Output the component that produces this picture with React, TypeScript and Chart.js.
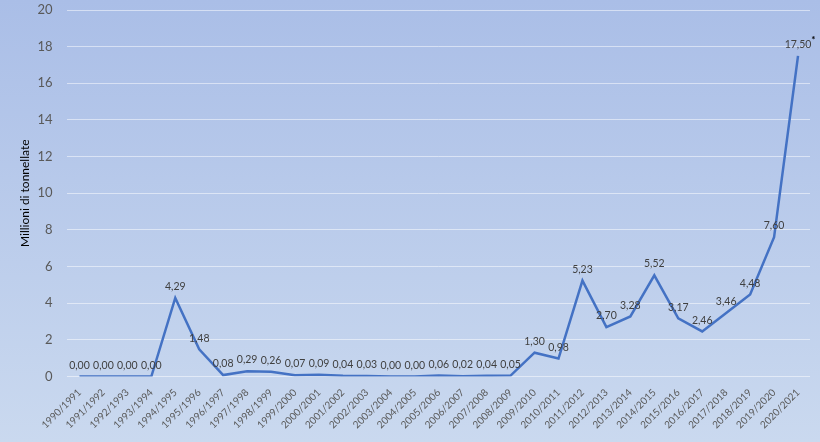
import React, { useEffect, useRef } from 'react';
import { Chart, registerables } from 'chart.js';

Chart.register(...registerables);

const seasons = [
  '1990/1991', '1991/1992', '1992/1993', '1993/1994', '1994/1995', '1995/1996',
  '1996/1997', '1997/1998', '1998/1999', '1999/2000', '2000/2001', '2001/2002',
  '2002/2003', '2003/2004', '2004/2005', '2005/2006', '2006/2007', '2007/2008',
  '2008/2009', '2009/2010', '2010/2011', '2011/2012', '2012/2013', '2013/2014',
  '2014/2015', '2015/2016', '2016/2017', '2017/2018', '2018/2019', '2019/2020',
  '2020/2021',
];

const tonnes = [
  0.0, 0.0, 0.0, 0.0, 4.29, 1.48, 0.08, 0.29, 0.26, 0.07, 0.09, 0.04, 0.03,
  0.0, 0.0, 0.06, 0.02, 0.04, 0.05, 1.3, 0.98, 5.23, 2.7, 3.28, 5.52, 3.17,
  2.46, 3.46, 4.48, 7.6, 17.5,
];

// estimated value marked with an asterisk in the source
const notes = ['', '', '', '', '', '', '', '', '', '', '', '', '', '', '', '', '', '', '', '', '', '', '', '', '', '', '', '', '', '', '*'];

const yTicks = [0, 2, 4, 6, 8, 10, 12, 14, 16, 18, 20];

const FONT = 'Lato, "Open Sans", sans-serif';

const background = {
  id: 'background',
  beforeDraw(chart: Chart) {
    const { ctx, width, height } = chart;
    const g = ctx.createLinearGradient(0, 0, 0, height);
    g.addColorStop(0, '#aabee7');
    g.addColorStop(1, '#cad9ef');
    ctx.save();
    ctx.fillStyle = g;
    ctx.fillRect(0, 0, width, height);
    ctx.restore();
  },
};

const valueLabels = {
  id: 'valueLabels',
  afterDatasetsDraw(chart: Chart) {
    const { ctx } = chart;
    const meta = chart.getDatasetMeta(0);
    ctx.save();
    meta.data.forEach((pt, i) => {
      const text = tonnes[i].toFixed(2).replace('.', ',');
      ctx.font = `10.5px ${FONT}`;
      ctx.fillStyle = '#404040';
      ctx.textAlign = 'center';
      ctx.textBaseline = 'bottom';
      ctx.fillText(text, pt.x, pt.y - 6);
      if (notes[i]) {
        const w = ctx.measureText(text).width;
        ctx.font = `bold 10px ${FONT}`;
        ctx.fillStyle = '#000';
        ctx.fillText(notes[i], pt.x + w / 2 + 2, pt.y - 11);
      }
    });
    ctx.restore();
  },
};

const App: React.FC = () => {
  const canvasRef = useRef<HTMLCanvasElement>(null);

  useEffect(() => {
    document.body.style.margin = '0';
    if (!canvasRef.current) return;
    const chart = new Chart(canvasRef.current, {
      type: 'line',
      data: {
        labels: seasons,
        datasets: [{
          data: tonnes,
          borderColor: '#4472c4',
          borderWidth: 2.5,
          pointRadius: 0,
          tension: 0,
          fill: false,
        }],
      },
      options: {
        animation: false,
        responsive: false,
        layout: { padding: { top: 10, right: 10, bottom: 9, left: 18 } },
        plugins: {
          legend: { display: false },
          tooltip: { enabled: false },
        },
        scales: {
          x: {
            offset: true,
            grid: { display: false },
            border: { display: false },
            ticks: {
              color: '#595959',
              font: { family: FONT, size: 10 },
              maxRotation: 45,
              minRotation: 45,
              autoSkip: false,
              padding: 2,
            },
          },
          y: {
            min: 0,
            max: 20,
            afterBuildTicks: (axis) => {
              axis.ticks = yTicks.map((v) => ({ value: v }));
            },
            grid: {
              color: 'rgba(255,255,255,0.5)',
              lineWidth: 1,
              drawTicks: true,
              tickLength: 15,
              tickColor: 'rgba(0,0,0,0)',
            },
            border: { display: false },
            ticks: {
              color: '#595959',
              font: { family: FONT, size: 13 },
              padding: 0,
            },
            title: {
              display: true,
              text: 'Millioni di tonnellate',
              color: '#000',
              font: { family: FONT, size: 12 },
              padding: { top: 0, bottom: 5 },
            },
          },
        },
      },
      plugins: [background, valueLabels],
    });
    return () => chart.destroy();
  }, []);

  return <canvas ref={canvasRef} width={820} height={442} style={{ display: 'block' }} />;
};

export default App;
